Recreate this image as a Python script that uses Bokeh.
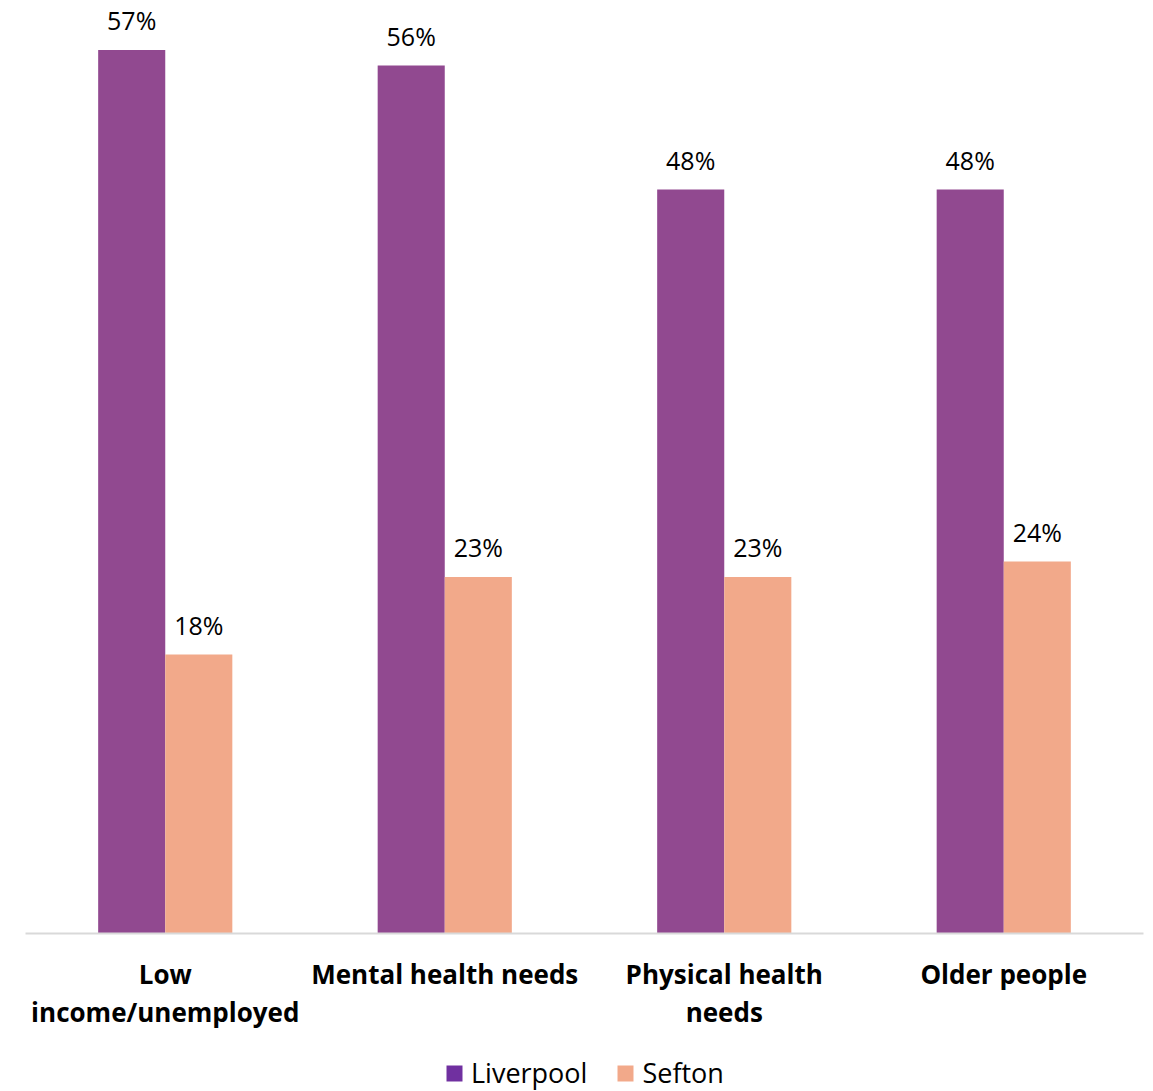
from bokeh.plotting import figure
from bokeh.layouts import column
from bokeh.models import ColumnDataSource, FactorRange, Range1d, Legend, LegendItem, LabelSet
from bokeh.transform import dodge
from bokeh.core.properties import value
from bokeh.embed import file_html
from bokeh.resources import INLINE

categories = ["Low\nincome/unemployed", "Mental health needs", "Physical health\nneeds", "Older people"]
liverpool = [57, 56, 48, 48]
sefton = [18, 23, 23, 24]
liverpool_labels = ["57%", "56%", "48%", "48%"]
sefton_labels = ["18%", "23%", "23%", "24%"]
series_names = ["Liverpool", "Sefton"]

FONT = "Open Sans"
src = ColumnDataSource(dict(cat=categories, liv=liverpool, sef=sefton,
                            livl=liverpool_labels, sefl=sefton_labels))

p = figure(x_range=FactorRange(*categories), y_range=Range1d(0, 60.2),
           width=1153, height=1050, output_backend="svg", toolbar_location=None,
           min_border_left=25, min_border_right=10, min_border_top=0, min_border_bottom=117)
p.outline_line_color = None
p.xgrid.visible = False
p.ygrid.visible = False
p.yaxis.visible = False
p.x_range.range_padding = 0
p.x_range.group_padding = 0

bw = 0.24
p.vbar(x=dodge("cat", -bw / 2, range=p.x_range), top="liv", width=bw, source=src,
       fill_color="#914990", line_color=None)
p.vbar(x=dodge("cat", bw / 2, range=p.x_range), top="sef", width=bw, source=src,
       fill_color="#F2A98A", line_color=None)

for col, off in (("livl", -bw / 2), ("sefl", bw / 2)):
    top = "liv" if col == "livl" else "sef"
    p.add_layout(LabelSet(x=dodge("cat", off, range=p.x_range), y=top, text=col, source=src,
                          text_align="center", text_baseline="bottom", y_offset=13,
                          text_font=value(FONT), text_font_size="25px", text_color="#000000"))

ax = p.xaxis[0]
ax.axis_line_color = "#d9d9d9"
ax.axis_line_width = 2
ax.major_tick_line_color = None
ax.minor_tick_line_color = None
ax.major_label_text_font = FONT
ax.major_label_text_font_style = "bold"
ax.major_label_text_font_size = "26px"
ax.major_label_text_color = "#000000"
ax.major_label_text_line_height = 1.08
ax.major_label_standoff = 16
ax.major_label_orientation = "horizontal"

# legend strip below the chart
lg = figure(width=1153, height=41, output_backend="svg", toolbar_location=None,
            x_range=Range1d(0, 1), y_range=Range1d(0, 1),
            min_border_left=0, min_border_right=0, min_border_top=0, min_border_bottom=0)
lg.axis.visible = False
lg.grid.visible = False
lg.outline_line_color = None
d1 = lg.rect(x=[-5], y=[-5], width=0.1, height=0.1, fill_color="#7030A0", line_color=None)
d2 = lg.rect(x=[-5], y=[-5], width=0.1, height=0.1, fill_color="#F2A98A", line_color=None)
legend = Legend(items=[LegendItem(label=series_names[0], renderers=[d1]),
                       LegendItem(label=series_names[1], renderers=[d2])],
                orientation="horizontal", location=(419, 0),
                label_text_font=FONT, label_text_font_size="27px", label_text_color="#000000",
                glyph_width=20, glyph_height=20, spacing=28, label_standoff=7,
                border_line_color=None, background_fill_alpha=0, padding=0, margin=0)
lg.add_layout(legend, "center")

open("out.html", "w").write(file_html(column(p, lg, spacing=0), INLINE))
